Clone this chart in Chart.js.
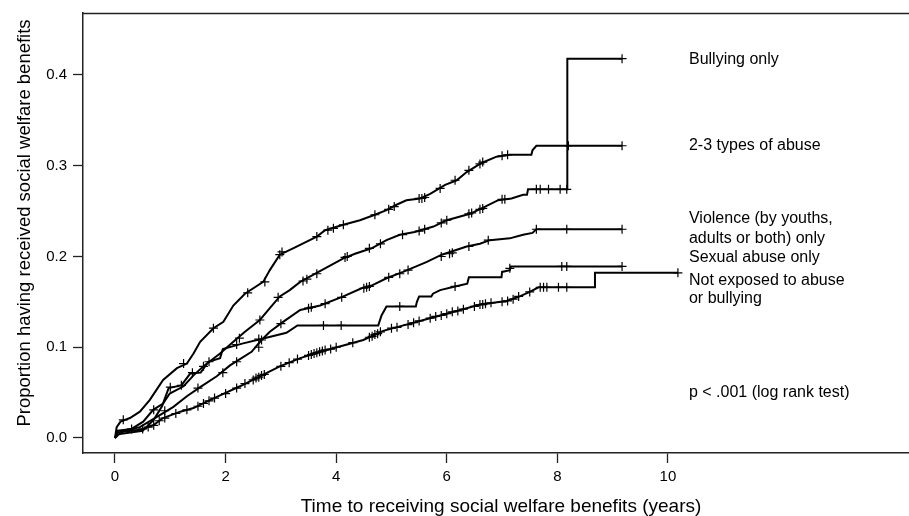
<!DOCTYPE html>
<html>
<head>
<meta charset="utf-8">
<script src="https://cdn.jsdelivr.net/npm/chart.js@4.4.1/dist/chart.umd.min.js"></script>
<style>
    html, body { margin: 0; padding: 0; background: #fff; overflow: hidden; }
    #wrap { width: 909px; height: 516px; overflow: hidden; }
</style>
</head>
<body>
<div id="wrap"><canvas id="km" width="919" height="516"></canvas></div>
<script>
// 累積比例曲線 (年, 比例)
const twoToThreeTypes = [
    [0, 0], [0.03, 0.012], [0.1, 0.018], [0.27, 0.022], [0.45, 0.029], [0.63, 0.042], [0.75, 0.053],
    [0.87, 0.064], [1.12, 0.077], [1.3, 0.082], [1.42, 0.093], [1.54, 0.106], [1.78, 0.121], [1.96, 0.128],
    [2.14, 0.146], [2.35, 0.159], [2.68, 0.172], [2.8, 0.185], [2.98, 0.202], [3.22, 0.209], [3.65, 0.222],
    [3.8, 0.229], [4.13, 0.235], [4.43, 0.24], [4.7, 0.246], [4.91, 0.251], [5.09, 0.257], [5.27, 0.262],
    [5.52, 0.264], [5.7, 0.269], [5.97, 0.279], [6.18, 0.284], [6.36, 0.293], [6.63, 0.303], [6.9, 0.31],
    [7.14, 0.312], [7.53, 0.312], [7.55, 0.317], [7.62, 0.322], [9.17, 0.322]
];
const bullyingOnly = [
    [0, 0], [0.05, 0.008], [0.3, 0.01], [0.51, 0.018], [0.69, 0.031], [0.87, 0.038], [0.99, 0.049],
    [1.24, 0.057], [1.42, 0.069], [1.6, 0.079], [1.9, 0.093], [2.14, 0.106], [2.35, 0.117], [2.62, 0.13],
    [2.8, 0.143], [2.98, 0.156], [3.16, 0.163], [3.35, 0.172], [3.59, 0.18], [4.13, 0.198], [4.34, 0.203],
    [4.64, 0.209], [4.91, 0.218], [5.15, 0.224], [5.42, 0.227], [5.76, 0.233], [6.0, 0.24], [6.42, 0.247],
    [6.63, 0.253], [6.93, 0.262], [7.17, 0.264], [7.38, 0.268], [7.45, 0.268], [7.47, 0.274], [8.18, 0.274],
    [8.18, 0.418], [9.17, 0.418]
];
const violenceOnly = [
    [0, 0], [0.05, 0.006], [0.45, 0.012], [0.75, 0.023], [1.05, 0.034], [1.3, 0.046], [1.54, 0.056],
    [1.84, 0.068], [2.08, 0.08], [2.47, 0.095], [2.65, 0.108], [2.8, 0.117], [3.04, 0.128], [3.35, 0.141],
    [3.71, 0.146], [4.13, 0.156], [4.46, 0.165], [4.64, 0.168], [4.91, 0.176], [5.21, 0.183], [5.64, 0.194],
    [5.91, 0.202], [6.36, 0.211], [6.6, 0.214], [6.78, 0.218], [7.14, 0.22], [7.38, 0.224], [7.55, 0.226],
    [7.62, 0.23], [9.17, 0.23]
];
const sexualAbuseOnly = [
    [0, 0], [0.05, 0.004], [0.5, 0.008], [0.7, 0.02], [0.85, 0.035], [0.97, 0.055], [1.2, 0.058],
    [1.36, 0.071], [1.55, 0.072], [1.69, 0.084], [1.9, 0.088], [1.95, 0.098], [2.3, 0.104], [2.7, 0.11],
    [3.1, 0.116], [3.3, 0.124], [4.76, 0.124], [4.82, 0.135], [4.91, 0.145], [5.44, 0.145], [5.46, 0.15],
    [5.5, 0.156], [5.72, 0.156], [5.75, 0.159], [5.88, 0.163], [6.15, 0.167], [6.37, 0.17], [6.4, 0.177],
    [6.99, 0.177], [7.0, 0.183], [7.14, 0.185], [7.16, 0.189], [9.17, 0.189]
];
const notExposed = [
    [0, 0], [0.05, 0.003], [0.15, 0.007], [0.45, 0.009], [0.69, 0.014], [0.87, 0.022], [1.18, 0.029],
    [1.42, 0.033], [1.66, 0.04], [1.9, 0.047], [2.26, 0.057], [2.62, 0.068], [2.98, 0.079], [3.35, 0.088],
    [3.71, 0.095], [4.13, 0.102], [4.49, 0.108], [4.85, 0.118], [5.15, 0.123], [5.58, 0.13], [6.06, 0.138],
    [6.36, 0.143], [6.6, 0.147], [7.08, 0.151], [7.32, 0.156], [7.5, 0.161], [7.66, 0.166], [8.68, 0.166],
    [8.68, 0.182], [10.18, 0.182]
];

// 截尾標記 (+)
const censTwoToThree = [
    [0.15, 0.02], [1.24, 0.082], [1.78, 0.121], [2.4, 0.16], [2.71, 0.172], [2.98, 0.202], [3.02, 0.205],
    [3.65, 0.222], [3.85, 0.229], [3.95, 0.231], [4.13, 0.235], [4.7, 0.246], [4.95, 0.252], [5.05, 0.255],
    [5.5, 0.264], [5.55, 0.264], [5.6, 0.265], [5.88, 0.275], [6.15, 0.284], [6.4, 0.295], [6.6, 0.302],
    [6.65, 0.304], [7.0, 0.311], [7.1, 0.312], [8.2, 0.322], [9.17, 0.322]
];
const censBullying = [
    [0.7, 0.031], [1.6, 0.079], [2.25, 0.11], [2.62, 0.13], [2.95, 0.155], [3.4, 0.173], [3.47, 0.175],
    [3.65, 0.181], [4.16, 0.199], [4.2, 0.2], [4.6, 0.209], [4.8, 0.214], [5.2, 0.224], [5.5, 0.228],
    [5.6, 0.23], [5.9, 0.237], [6.0, 0.24], [6.4, 0.247], [6.45, 0.248], [6.6, 0.252], [6.65, 0.253],
    [7.0, 0.263], [7.05, 0.263], [7.62, 0.274], [7.69, 0.274], [7.84, 0.274], [8.05, 0.274], [8.17, 0.274],
    [9.17, 0.418]
];
const censViolence = [
    [0.3, 0.01], [0.9, 0.03], [1.5, 0.055], [1.95, 0.072], [2.2, 0.084], [2.6, 0.1], [2.65, 0.108],
    [3.0, 0.126], [3.5, 0.143], [3.55, 0.144], [3.8, 0.148], [4.1, 0.155], [4.5, 0.165], [4.55, 0.166],
    [4.6, 0.167], [4.95, 0.177], [5.15, 0.181], [5.3, 0.185], [5.9, 0.2], [6.05, 0.203], [6.1, 0.204],
    [6.4, 0.211], [6.75, 0.218], [7.62, 0.23], [8.17, 0.23], [9.17, 0.23]
];
const censSexual = [
    [1.0, 0.056], [1.2, 0.058], [1.4, 0.072], [1.7, 0.084], [2.2, 0.103], [2.6, 0.109], [3.77, 0.124],
    [4.09, 0.124], [5.15, 0.145], [6.15, 0.167], [7.14, 0.187], [8.08, 0.189], [8.17, 0.189], [9.17, 0.189]
];
const censNotExposed = [
    [0.5, 0.01], [0.6, 0.012], [0.7, 0.014], [0.8, 0.019], [0.9, 0.022], [1.1, 0.027], [1.3, 0.031],
    [1.5, 0.035], [1.6, 0.038], [1.7, 0.041], [1.8, 0.044], [2.0, 0.049], [2.2, 0.055], [2.35, 0.06],
    [2.5, 0.064], [2.55, 0.066], [2.6, 0.067], [2.65, 0.069], [2.7, 0.07], [3.0, 0.079], [3.15, 0.083],
    [3.3, 0.087], [3.5, 0.091], [3.55, 0.092], [3.6, 0.093], [3.65, 0.094], [3.7, 0.095], [3.75, 0.096],
    [3.8, 0.097], [3.9, 0.098], [4.0, 0.1], [4.3, 0.105], [4.6, 0.111], [4.65, 0.112], [4.7, 0.114],
    [4.75, 0.115], [4.8, 0.117], [5.0, 0.121], [5.1, 0.122], [5.3, 0.125], [5.4, 0.127], [5.5, 0.129],
    [5.7, 0.132], [5.8, 0.134], [5.9, 0.135], [6.0, 0.137], [6.1, 0.139], [6.2, 0.14], [6.3, 0.142],
    [6.5, 0.145], [6.6, 0.147], [6.65, 0.147], [6.7, 0.148], [6.8, 0.149], [7.0, 0.15], [7.1, 0.151],
    [7.2, 0.153], [7.3, 0.156], [7.5, 0.161], [7.69, 0.166], [7.75, 0.166], [7.81, 0.166], [8.02, 0.166],
    [8.17, 0.166], [10.18, 0.182]
];

const xTicks = [0, 2, 4, 6, 8, 10];
const yTicks = [0, 0.1, 0.2, 0.3, 0.4];

// 右側文字標籤 (資料座標)
const groupLabels = [
    { text: 'Bullying only', y: 0.4165 },
    { text: '2-3 types of abuse', y: 0.3218 },
    { text: 'Violence (by youths,', y: 0.2413 },
    { text: 'adults or both) only', y: 0.2198 },
    { text: 'Sexual abuse only', y: 0.1983 },
    { text: 'Not exposed to abuse', y: 0.173 },
    { text: 'or bullying', y: 0.1532 },
    { text: 'p < .001 (log rank test)', y: 0.0501 }
];
const labelX = 10.38;
const yTitle = 'Proportion having received social welfare benefits';

const FONT = "'Liberation Sans', Arial, sans-serif";
const toXY = arr => arr.map(p => ({ x: p[0], y: p[1] }));

function curve(arr) {
    return {
        data: toXY(arr),
        borderColor: '#000',
        borderWidth: 2,
        pointRadius: 0,
        fill: false,
        tension: 0
    };
}
function censor(arr) {
    return {
        data: toXY(arr),
        showLine: false,
        pointStyle: 'cross',
        pointRadius: 4.5,
        pointBorderWidth: 1.2,
        pointBorderColor: '#000',
        borderColor: '#000'
    };
}

const annotate = {
    id: 'annotate',
    afterDatasetsDraw(chart) {
        const { ctx, chartArea, scales } = chart;
        ctx.save();
        // 上框線
        ctx.strokeStyle = '#222';
        ctx.lineWidth = 1.5;
        ctx.beginPath();
        ctx.moveTo(chartArea.left, chartArea.top + 0.5);
        ctx.lineTo(chartArea.right, chartArea.top + 0.5);
        ctx.stroke();
        // 組別文字
        ctx.fillStyle = '#000';
        ctx.font = '16px ' + FONT;
        ctx.textAlign = 'left';
        ctx.textBaseline = 'middle';
        const px = scales.x.getPixelForValue(labelX);
        groupLabels.forEach(l => {
            ctx.fillText(l.text, px, scales.y.getPixelForValue(l.y));
        });
        // y 軸標題 (原圖略偏上)
        ctx.translate(25, 223);
        ctx.rotate(-Math.PI / 2);
        ctx.font = '18.5px ' + FONT;
        ctx.textAlign = 'center';
        ctx.fillText(yTitle, 0, 0);
        ctx.restore();
    }
};

new Chart(document.getElementById('km'), {
    type: 'line',
    data: {
        datasets: [
            curve(twoToThreeTypes), curve(bullyingOnly), curve(violenceOnly),
            curve(sexualAbuseOnly), curve(notExposed),
            censor(censTwoToThree), censor(censBullying), censor(censViolence),
            censor(censSexual), censor(censNotExposed)
        ]
    },
    options: {
        responsive: false,
        animation: false,
        layout: { autoPadding: false, padding: { left: 0, top: 13, right: 0, bottom: 0 } },
        plugins: {
            legend: { display: false },
            tooltip: { enabled: false }
        },
        scales: {
            x: {
                type: 'linear',
                min: -0.5787,
                max: 14.54,
                afterBuildTicks: s => { s.ticks = xTicks.map(v => ({ value: v })); },
                afterFit: s => { s.height = 63; s.paddingLeft = 0; s.paddingRight = 0; },
                grid: { drawOnChartArea: false, drawTicks: true, tickLength: 10, tickWidth: 1.3, tickColor: '#222' },
                border: { display: true, color: '#222', width: 1.5 },
                ticks: { color: '#000', padding: 5, font: { family: FONT, size: 15 }, callback: v => String(v) },
                title: {
                    display: true,
                    text: 'Time to receiving social welfare benefits (years)',
                    color: '#000',
                    font: { family: FONT, size: 19, lineHeight: 1 },
                    padding: { top: 0, bottom: 0 }
                }
            },
            y: {
                type: 'linear',
                min: -0.01653,
                max: 0.4683,
                afterBuildTicks: s => { s.ticks = yTicks.map(v => ({ value: v })); },
                afterFit: s => { s.width = 83; s.paddingTop = 0; s.paddingBottom = 0; },
                grid: { drawOnChartArea: false, drawTicks: true, tickLength: 10, tickWidth: 1.3, tickColor: '#222' },
                border: { display: true, color: '#222', width: 1.5 },
                ticks: { color: '#000', padding: 6, font: { family: FONT, size: 15 }, callback: v => v.toFixed(1) },
                title: { display: false }
            }
        }
    },
    plugins: [annotate]
});
</script>
</body>
</html>
